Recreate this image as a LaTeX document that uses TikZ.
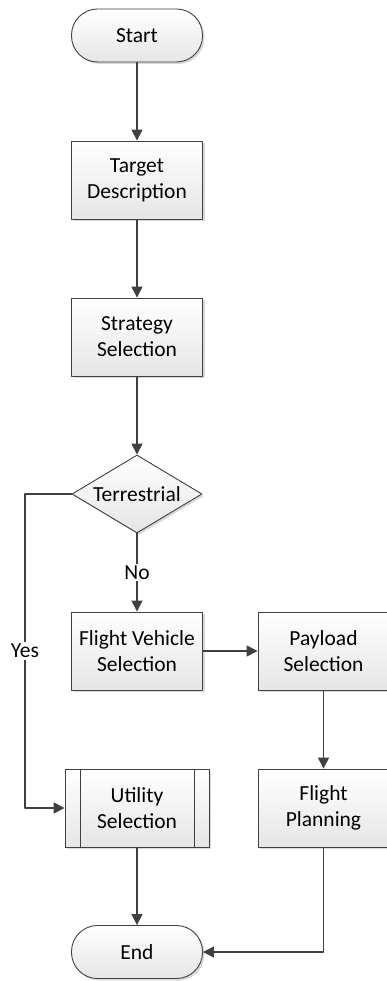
\documentclass[tikz,border=0pt]{standalone}
\usepackage{fontspec}
\setmainfont{Carlito}
\usetikzlibrary{arrows.meta,shapes.geometric,shadows}
\definecolor{lineC}{HTML}{404040}
\begin{document}
\begin{tikzpicture}[x=1pt, y=-1pt, line join=round, >={Triangle[length=11pt,width=11pt]},
	font=\fontsize{21.5pt}{26pt}\selectfont,
	base/.style={draw=lineC, line width=0.9pt, top color=white, bottom color=gray!20, align=center, inner sep=0pt,
		drop shadow={shadow xshift=2pt, shadow yshift=-2pt, fill=black, opacity=0.15}},
	term/.style={base, rounded corners=26pt, minimum width=131pt, minimum height=53pt},
	proc/.style={base, minimum width=131pt, minimum height=78pt},
	pred/.style={proc, minimum width=144pt, path picture={
		\draw[lineC, line width=0.9pt] 
		([xshift=15pt]path picture bounding box.north west)--([xshift=15pt]path picture bounding box.south west)
		([xshift=-15pt]path picture bounding box.north east)--([xshift=-15pt]path picture bounding box.south east);}},
	dec/.style={base, diamond, aspect=1.67, minimum width=130pt, minimum height=78pt},
	conn/.style={->, line width=1.5pt, draw=lineC},
	lbl/.style={fill=white, inner sep=2pt}]
	\useasboundingbox (0,0) rectangle (386,981);
	\def\colL{137} % cột trái
	\def\colR{323.5} % cột phải
	\path 
	(\colL,35.5) node[term] (start) {Start}
	(\colL,180) node[proc] (target) {Target\\Description}
	(\colL,337) node[proc] (strategy) {Strategy\\Selection}
	(\colL,494) node[dec] (terr) {Terrestrial}
	(\colL,651) node[proc] (vehicle) {Flight Vehicle\\Selection}
	(\colR,651) node[proc] (payload) {Payload\\Selection}
	(\colL,808) node[pred] (utility) {Utility\\Selection}
	(\colR,808) node[proc] (planning) {Flight\\Planning}
	(\colL,952) node[term] (stop) {End};
	\coordinate (yesC) at (25,808);
	\draw[conn] (start)--(target);
	\draw[conn] (target)--(strategy);
	\draw[conn] (strategy)--(terr);
	\draw[conn] (terr)--node[lbl]{No}(vehicle);
	\draw[conn] (vehicle)--(payload);
	\draw[conn] (payload)--(planning);
	\draw[conn] (terr.west)-|node[lbl, pos=0.75]{Yes}(yesC)--(utility);
	\draw[conn] (utility)--(stop);
	\draw[conn] (planning)|-(stop);
\end{tikzpicture}
\end{document}
